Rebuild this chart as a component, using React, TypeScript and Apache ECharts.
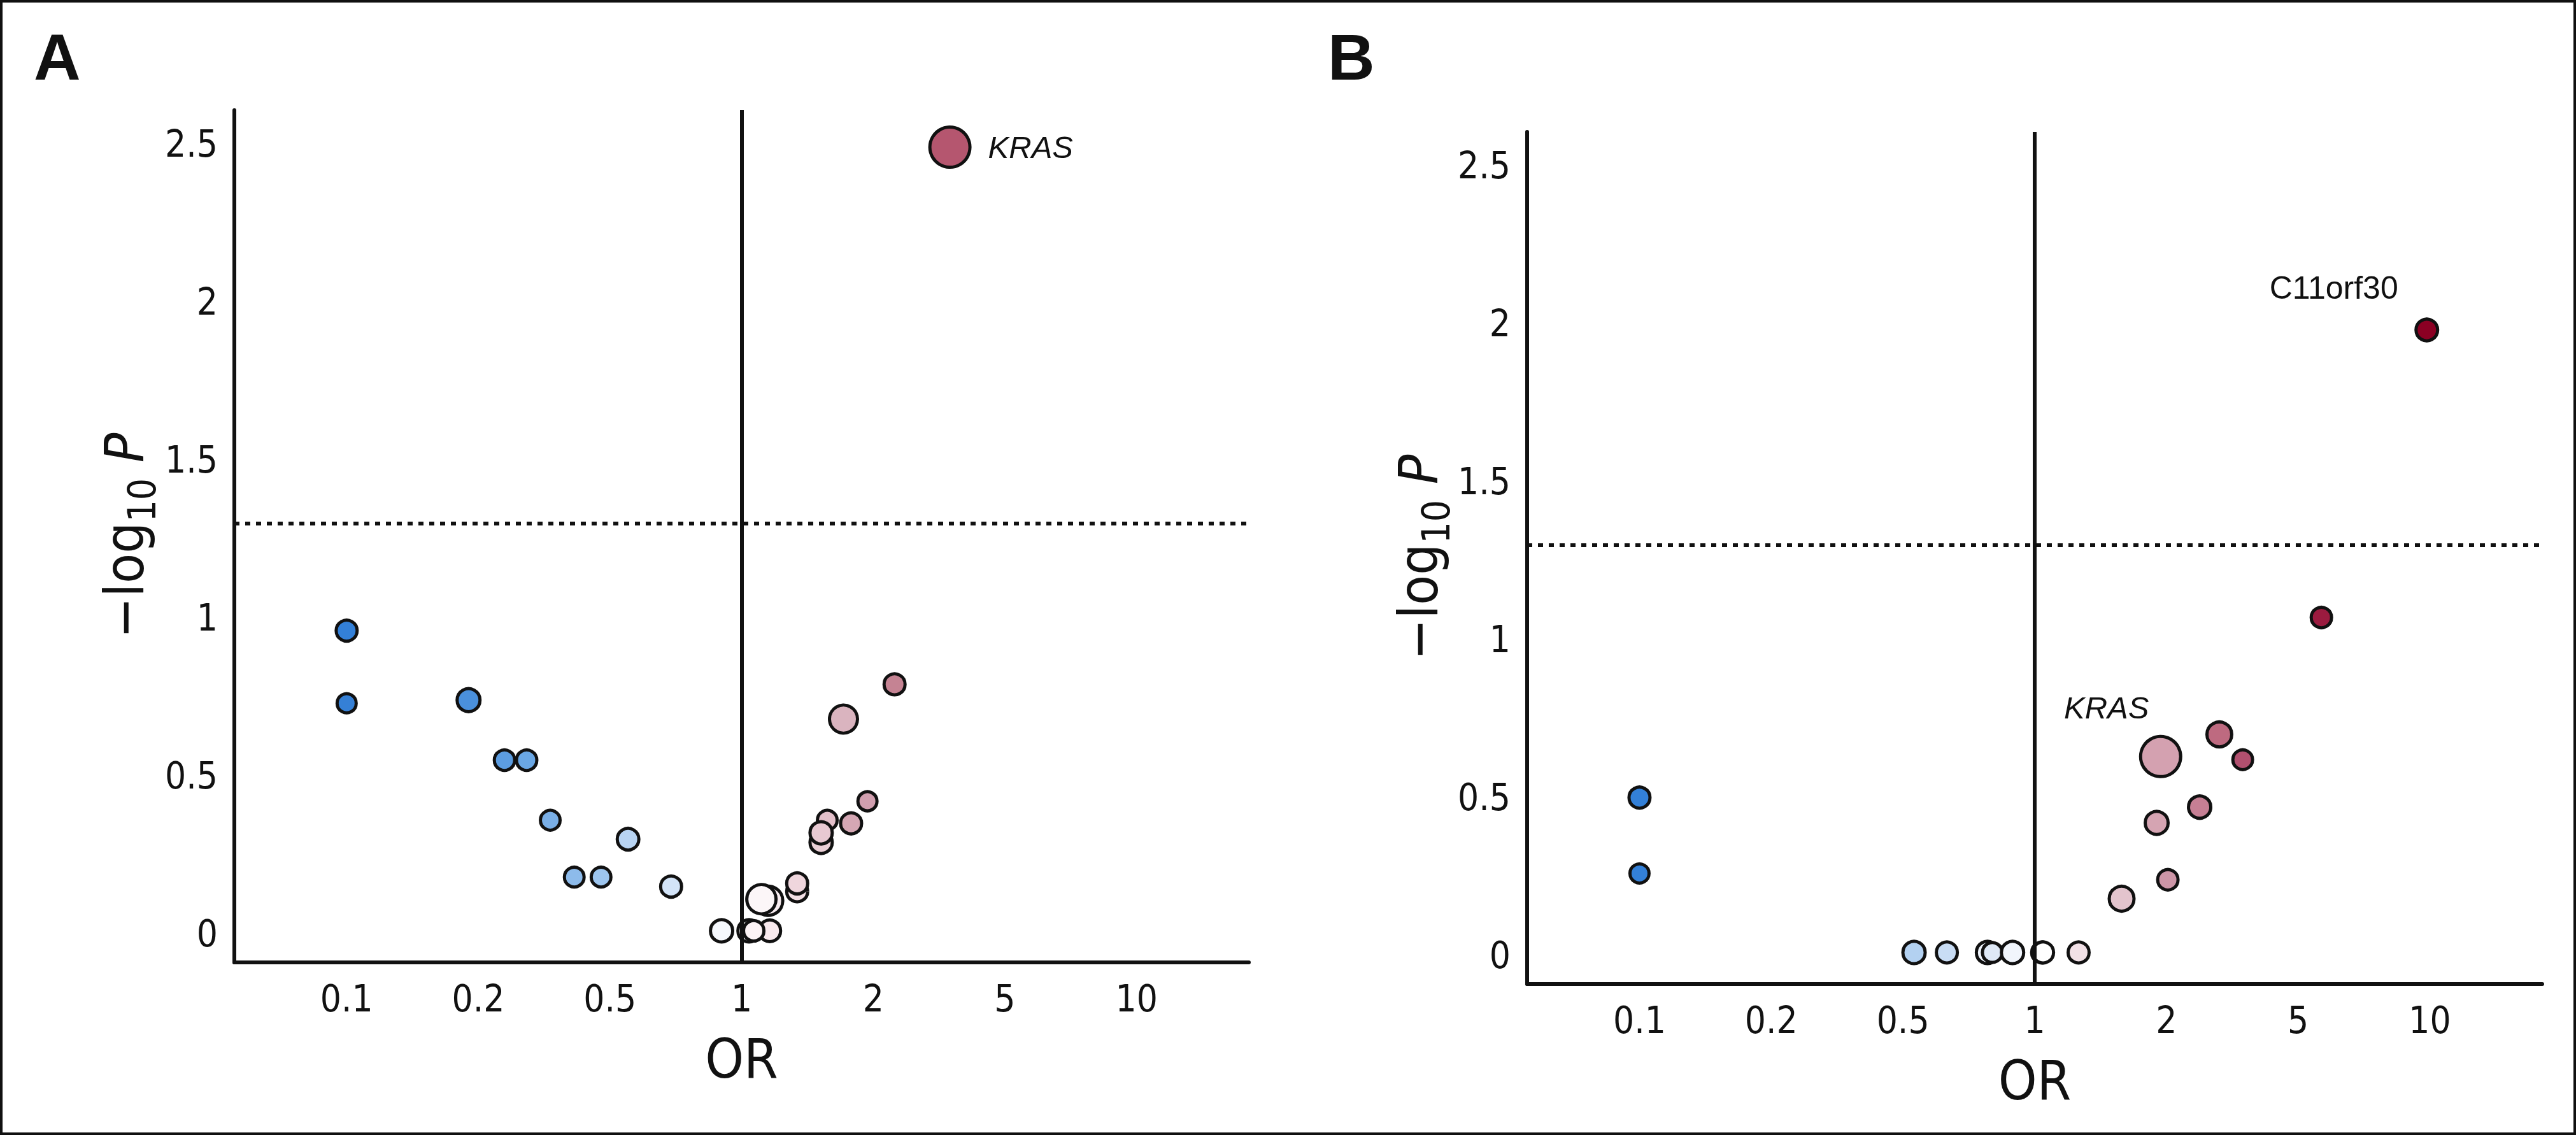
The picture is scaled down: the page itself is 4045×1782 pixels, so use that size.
import React, { useEffect, useRef } from "react";
import * as echarts from "echarts";

// ---------- data ----------
const tickValues = [0.1, 0.2, 0.5, 1, 2, 5, 10];
const tickLabels = ["0.1", "0.2", "0.5", "1", "2", "5", "10"];
const yTicks = [0, 0.5, 1, 1.5, 2, 2.5];
const sigThreshold = 1.301; // -log10(0.05)

// Panel A
const aOR = [0.1, 0.1, 0.19, 0.24, 0.28, 0.33, 0.39, 0.47, 0.55, 0.69, 0.9, 1.16, 1.04, 1.066, 1.15, 1.11, 1.34, 1.34, 1.52, 1.57, 1.52, 1.78, 1.94, 1.71, 2.32, 3.41];
const aLogP = [0.96, 0.73, 0.74, 0.55, 0.55, 0.36, 0.18, 0.18, 0.3, 0.15, 0.01, 0.01, 0.01, 0.01, 0.105, 0.11, 0.135, 0.16, 0.29, 0.36, 0.32, 0.35, 0.42, 0.68, 0.79, 2.49];
const aBubble = [38, 35, 41, 37, 37, 36, 36, 36, 39, 38, 40, 39, 40, 37, 51, 51, 38, 38, 40, 36, 40, 38, 35, 49, 38, 68];
const aColor = ["#3380d8", "#3580d6", "#4a90dc", "#5c9de1", "#6aa7e4", "#7aafe6", "#8dbbeb", "#9dc5ee", "#b8d4f3", "#d3e4f8", "#f5f8fd", "#f8e9ed", "#ffffff", "#fcf3f5", "#faeef2", "#fcf6f8", "#f2dfe4", "#efd6dd", "#ebd0d7", "#e3c0ca", "#e8c9d2", "#d5a7b4", "#d19faf", "#dab4bf", "#c58393", "#b5566f"];
const aGene = ["", "", "", "", "", "", "", "", "", "", "", "", "", "", "", "", "", "", "", "", "", "", "", "", "", "KRAS"];

// Panel B
const bOR = [0.1, 0.1, 0.53, 0.63, 0.78, 0.8, 0.89, 1.04, 1.045, 1.26, 1.58, 2.02, 1.9, 2.52, 1.94, 3.4, 2.89, 5.65, 9.84];
const bLogP = [0.5, 0.26, 0.01, 0.01, 0.01, 0.01, 0.01, 0.01, 0.01, 0.01, 0.18, 0.24, 0.42, 0.47, 0.63, 0.62, 0.7, 1.07, 1.98];
const bBubble = [38, 35, 40, 38, 40, 36, 40, 38, 38, 38, 44, 37, 41, 40, 68, 36, 44, 37, 39];
const bColor = ["#3380d8", "#3380d8", "#b3d1f1", "#c9ddf5", "#eef3fb", "#dfe9f7", "#f1f5fc", "#ffffff", "#ffffff", "#f1e0e6", "#e3c4cd", "#cd96a7", "#d5a4b2", "#c67f94", "#d4a1b0", "#b2506f", "#be6a80", "#9b1b3f", "#8b0023"];
const bGene = ["", "", "", "", "", "", "", "", "", "", "", "", "", "", "KRAS", "", "", "", "C11orf30"];

// ---------- helpers ----------
const fontNarrow = "'Liberation Sans Narrow', 'Arial Narrow', 'DejaVu Sans Condensed', sans-serif";
const fontSans = "'Liberation Sans', Arial, Helvetica, sans-serif";
const INK = "#111111";
const BORDER = 5;
const LINE_W = 6;

// OR -> position on the axis (ticks 0.1..10 equally spaced, log-interpolated between)
function orToPos(or: number): number {
  const lv = Math.log(or);
  for (let i = 0; i < tickValues.length - 1; i++) {
    if (or <= tickValues[i + 1] || i === tickValues.length - 2) {
      const a = Math.log(tickValues[i]);
      const b = Math.log(tickValues[i + 1]);
      return i - 3 + (lv - a) / (b - a);
    }
  }
  return 0;
}

function buildPoints(ors: number[], ps: number[], sizes: number[], colors: string[], genes: string[], labelCfg: Record<string, any>) {
  return ors.map((or, i) => {
    const item: any = {
      value: [orToPos(or), ps[i]],
      symbolSize: sizes[i] - BORDER,
      itemStyle: { color: colors[i] },
    };
    if (genes[i]) {
      item.label = { show: true, formatter: genes[i], ...(labelCfg[genes[i]] || {}) };
    }
    return item;
  });
}

const X_MIN = -3.853;
const X_MAX = 3.853;
const Y_MIN = -0.09;
const Y_MAX = 2.607;

function xAxisCfg(gridIndex: number) {
  return {
    type: "value",
    gridIndex,
    min: X_MIN,
    max: X_MAX,
    axisLine: { show: true, onZero: false, lineStyle: { color: INK, width: LINE_W } },
    axisTick: { show: false },
    splitLine: { show: false },
    axisLabel: {
      customValues: tickLabels.map((_, i) => i - 3),
      formatter: (v: number) => tickLabels[Math.round(v) + 3] ?? "",
      margin: 28,
      fontSize: 58,
      fontFamily: fontNarrow,
      color: INK,
    },
    name: "OR",
    nameLocation: "middle",
    nameGap: 108,
    nameTextStyle: { fontSize: 86, fontFamily: fontNarrow, color: INK },
  };
}

function yAxisCfg(gridIndex: number) {
  return {
    type: "value",
    gridIndex,
    min: Y_MIN,
    max: Y_MAX,
    axisLine: { show: true, onZero: false, lineStyle: { color: INK, width: LINE_W } },
    axisTick: { show: false },
    splitLine: { show: false },
    axisLabel: {
      customValues: yTicks,
      formatter: (v: number) => String(v),
      margin: 26,
      fontSize: 58,
      fontFamily: fontNarrow,
      color: INK,
    },
  };
}

function refLines(axisIndex: number) {
  return {
    type: "scatter",
    xAxisIndex: axisIndex,
    yAxisIndex: axisIndex,
    data: [],
    z: 1,
    silent: true,
    markLine: {
      silent: true,
      symbol: ["none", "none"],
      label: { show: false },
      animation: false,
      data: [
        { xAxis: 0, lineStyle: { color: INK, width: LINE_W, type: "solid" } },
        { yAxis: sigThreshold, lineStyle: { color: INK, width: 6, type: [8, 9] } },
      ],
    },
  };
}

function yTitle(x: number, y: number) {
  return {
    type: "text",
    x,
    y,
    rotation: Math.PI / 2,
    style: {
      text: "{a|\u2212log}{b|10}{c| P}",
      align: "center",
      verticalAlign: "middle",
      rich: {
        a: { fontSize: 86, fontFamily: fontNarrow, fill: INK, lineHeight: 116, verticalAlign: "middle" },
        b: { fontSize: 60, fontFamily: fontNarrow, fill: INK, lineHeight: 60, verticalAlign: "bottom" },
        c: { fontSize: 86, fontFamily: fontNarrow, fontStyle: "italic", fill: INK, lineHeight: 116, verticalAlign: "middle" },
      },
    },
  };
}

export default function App() {
  const ref = useRef<HTMLDivElement>(null);

  useEffect(() => {
    document.body.style.margin = "0";
    if (!ref.current) return;
    const chart = echarts.init(ref.current, undefined, { renderer: "svg" });

    const labelA = {
      KRAS: { position: "right", distance: 26, fontSize: 49, fontStyle: "italic", fontFamily: fontSans, color: INK },
    };
    const labelB = {
      KRAS: { position: "top", distance: 18, offset: [-85, 0], fontSize: 49, fontStyle: "italic", fontFamily: fontSans, color: INK },
      C11orf30: { position: "top", distance: 22, offset: [-146, 0], fontSize: 50, fontFamily: fontSans, color: INK },
    };

    const pointStyle = { borderColor: INK, borderWidth: BORDER, opacity: 1 };

    chart.setOption({
      animation: false,
      backgroundColor: "#ffffff",
      grid: [
        { left: 368, top: 173, width: 1593, height: 1338 },
        { left: 2398, top: 207, width: 1594, height: 1338 },
      ],
      xAxis: [xAxisCfg(0), xAxisCfg(1)],
      yAxis: [yAxisCfg(0), yAxisCfg(1)],
      series: [
        refLines(0),
        refLines(1),
        {
          type: "scatter",
          xAxisIndex: 0,
          yAxisIndex: 0,
          z: 3,
          symbol: "circle",
          itemStyle: pointStyle,
          emphasis: { disabled: true },
          data: buildPoints(aOR, aLogP, aBubble, aColor, aGene, labelA),
        },
        {
          type: "scatter",
          xAxisIndex: 1,
          yAxisIndex: 1,
          z: 3,
          symbol: "circle",
          itemStyle: pointStyle,
          emphasis: { disabled: true },
          data: buildPoints(bOR, bLogP, bBubble, bColor, bGene, labelB),
        },
      ],
      graphic: [
        {
          type: "rect",
          shape: { x: 2, y: 2, width: 4041, height: 1778 },
          style: { fill: "none", stroke: INK, lineWidth: 4 },
          silent: true,
        },
        {
          type: "text",
          x: 53,
          y: 90,
          style: { text: "A", fontSize: 102, fontWeight: "bold", fontFamily: fontSans, fill: INK, align: "left", verticalAlign: "middle" },
        },
        {
          type: "text",
          x: 2085,
          y: 90,
          style: { text: "B", fontSize: 102, fontWeight: "bold", fontFamily: fontSans, fill: INK, align: "left", verticalAlign: "middle" },
        },
        yTitle(195, 841),
        yTitle(2227, 875),
      ],
    });

    return () => chart.dispose();
  }, []);

  return <div ref={ref} style={{ width: 4045, height: 1782 }} />;
}
